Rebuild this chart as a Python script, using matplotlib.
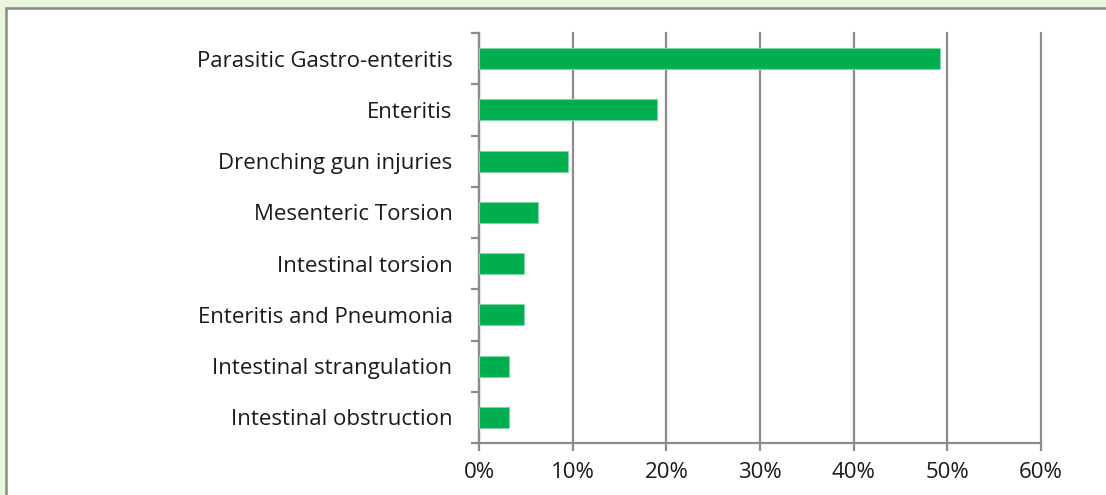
import matplotlib.pyplot as plt
from matplotlib.patches import Rectangle
from matplotlib.ticker import FixedLocator, PercentFormatter

# Causes (top to bottom) and share of cases in %
causes = [
    'Parasitic Gastro-enteritis',
    'Enteritis',
    'Drenching gun injuries',
    'Mesenteric Torsion',
    'Intestinal torsion',
    'Enteritis and Pneumonia',
    'Intestinal strangulation',
    'Intestinal obstruction',
]
shares = [49.2, 19.0, 9.5, 6.3, 4.8, 4.8, 3.2, 3.2]
x_ticks = [0, 10, 20, 30, 40, 50, 60]

plt.rcParams['font.family'] = ['Open Sans', 'DejaVu Sans']

W, H = 1106, 495
fig = plt.figure(figsize=(W / 100, H / 100), dpi=100)
fig.patch.set_facecolor('#eaf5de')

# white inner panel with grey frame
fig.patches.append(Rectangle((6 / W, -0.1), 1.2, 1 - 8 / H + 0.1,
                             transform=fig.transFigure, facecolor='white',
                             edgecolor='#8a8a8a', linewidth=1.8, zorder=-1))

ax = fig.add_axes([479 / W, 1 - 443 / H, (1041 - 479) / W, (443 - 33) / H])
ax.set_facecolor('none')

pos = list(range(len(causes)))
ax.barh(pos, shares, height=0.41, color='#00ae4f', edgecolor='#7fd6a5',
        linewidth=0.8, zorder=3)

ax.set_xlim(0, 60)
ax.set_ylim(len(causes) - 0.5, -0.5)
ax.set_xticks(x_ticks)
ax.xaxis.set_major_formatter(PercentFormatter(decimals=0))
ax.set_yticks(pos)
ax.set_yticklabels(causes)
ax.yaxis.set_minor_locator(FixedLocator([p - 0.5 for p in range(len(causes) + 1)]))

grey = '#8c8c8c'
ax.grid(axis='x', color=grey, linewidth=1.6, zorder=1)
for gl in ax.get_xgridlines():
    gl.set_clip_on(False)
for s in ['top', 'right']:
    ax.spines[s].set_visible(False)
for s in ['left', 'bottom']:
    ax.spines[s].set_color(grey)
    ax.spines[s].set_linewidth(1.6)

ax.tick_params(axis='y', which='major', length=0, pad=19, labelsize=16, labelcolor='#1a1a1a')
ax.tick_params(axis='y', which='minor', length=6, width=1.6, color=grey)
ax.tick_params(axis='x', length=6, width=1.6, color=grey, pad=8, labelsize=16, labelcolor='#1a1a1a')

fig.savefig('out.png', dpi=100, facecolor=fig.get_facecolor())
